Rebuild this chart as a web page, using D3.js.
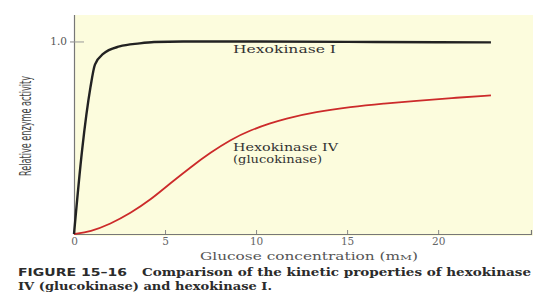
<!DOCTYPE html>
<html>
<head>
<meta charset="utf-8">
<script src="https://cdn.jsdelivr.net/npm/d3@7"></script>
<style>
  body { margin: 0; background: #fff; }
  svg { display: block; }
</style>
</head>
<body>
<script>
// glucose concentration (mM) and relative activity
var hexoIGlucose = [0, 0.45, 0.9, 1.15, 1.6, 2.5, 3.6, 4.4, 6, 10, 15, 20, 22.9];
var hexoIActivity = [0, 0.44, 0.76, 0.88, 0.935, 0.974, 0.99, 0.997, 1.0, 1.0, 0.998, 0.996, 0.995];

var hexoIVGlucose = [0, 0.9, 2.0, 3.1, 4.2, 5.3, 6.4, 7.5, 8.6, 9.7, 10.8, 11.5, 13.3, 15.2, 17.0, 18.8, 20.7, 22.9];
var hexoIVActivity = [0, 0.012, 0.052, 0.108, 0.177, 0.264, 0.347, 0.423, 0.49, 0.54, 0.575, 0.597, 0.635, 0.66, 0.677, 0.692, 0.706, 0.72];

var xTicks = [0, 5, 10, 15, 20];
var yTicks = [1.0];

var width = 548;
var height = 297;
var serif = "'DejaVu Serif', 'Liberation Serif', serif";

var svg = d3.select('body').append('svg')
    .attr('width', width)
    .attr('height', height);

var x = d3.scaleLinear().domain([0, 25.1]).range([74, 531]);
var y = d3.scaleLinear().domain([0, 1.14]).range([234, 14.5]);

// pale yellow plot panel
svg.append('rect')
    .attr('x', x(0) + 1).attr('y', 15)
    .attr('width', 533 - x(0) - 1).attr('height', 221)
    .attr('fill', '#fcfcdd');

// x axis
var xAxis = svg.append('g')
    .attr('transform', 'translate(0,' + y(0) + ')')
    .call(d3.axisBottom(x).tickValues(xTicks).tickSizeInner(-4).tickSizeOuter(-4).tickPadding(4));
xAxis.select('.domain').attr('stroke', '#777').attr('stroke-width', 1.2);
xAxis.selectAll('.tick line').attr('stroke', '#888');
xAxis.selectAll('.tick text')
    .attr('font-family', serif).attr('font-size', 10.5).attr('fill', '#666');

// y axis
var yAxis = svg.append('g')
    .attr('transform', 'translate(' + x(0) + ',0)')
    .call(d3.axisLeft(y).tickValues(yTicks).tickFormat(d3.format('.1f')).tickSizeInner(4).tickSizeOuter(0).tickPadding(3));
yAxis.select('.domain').attr('stroke', '#777').attr('stroke-width', 1.2);
yAxis.selectAll('.tick line').attr('stroke', '#888');
yAxis.selectAll('.tick').append('line')
    .attr('x1', 0).attr('x2', 10).attr('stroke', '#999');
yAxis.selectAll('.tick text')
    .attr('font-family', serif).attr('font-size', 10.5).attr('fill', '#555');

// curves
var line = d3.line()
    .x(function (d) { return x(d[0]); })
    .y(function (d) { return y(d[1]); });

svg.append('path')
    .datum(d3.zip(hexoIVGlucose, hexoIVActivity))
    .attr('d', line.curve(d3.curveBasis))
    .attr('fill', 'none')
    .attr('stroke', '#cc2a2a')
    .attr('stroke-width', 1.8);

svg.append('path')
    .datum(d3.zip(hexoIGlucose, hexoIActivity))
    .attr('d', line.curve(d3.curveMonotoneX))
    .attr('fill', 'none')
    .attr('stroke', '#222')
    .attr('stroke-width', 2.4);

// series labels
svg.append('text')
    .attr('x', 233).attr('y', 53)
    .attr('font-family', serif).attr('font-size', 11).attr('fill', '#333')
    .attr('textLength', 103).attr('lengthAdjust', 'spacingAndGlyphs')
    .text('Hexokinase I');
svg.append('text')
    .attr('x', 233).attr('y', 151)
    .attr('font-family', serif).attr('font-size', 10.5).attr('fill', '#333')
    .attr('textLength', 105).attr('lengthAdjust', 'spacingAndGlyphs')
    .text('Hexokinase IV');
svg.append('text')
    .attr('x', 233).attr('y', 163)
    .attr('font-family', serif).attr('font-size', 10.5).attr('fill', '#333')
    .attr('textLength', 89).attr('lengthAdjust', 'spacingAndGlyphs')
    .text('(glucokinase)');

// axis titles
var xt = svg.append('text')
    .attr('x', 200).attr('y', 260)
    .attr('font-family', serif).attr('font-size', 10.5).attr('fill', '#555')
    .attr('textLength', 218).attr('lengthAdjust', 'spacingAndGlyphs');
xt.append('tspan').text('Glucose concentration (m');
xt.append('tspan').attr('font-size', 8).text('M');
xt.append('tspan').text(')');

svg.append('text')
    .attr('transform', 'translate(31,126) rotate(-90)')
    .attr('text-anchor', 'middle')
    .attr('font-family', "'Liberation Sans Narrow', 'DejaVu Sans Condensed', sans-serif")
    .attr('font-size', 15).attr('fill', '#444')
    .attr('textLength', 100).attr('lengthAdjust', 'spacingAndGlyphs')
    .text('Relative enzyme activity');

// caption
svg.append('text')
    .attr('x', 18).attr('y', 276)
    .attr('font-family', "'DejaVu Sans', sans-serif").attr('font-weight', 'bold')
    .attr('font-size', 11).attr('fill', '#2b2b2b')
    .attr('textLength', 109).attr('lengthAdjust', 'spacingAndGlyphs')
    .text('FIGURE 15\u201316');
svg.append('text')
    .attr('x', 142).attr('y', 276)
    .attr('font-family', serif).attr('font-weight', 'bold')
    .attr('font-size', 11).attr('fill', '#2b2b2b')
    .attr('textLength', 389).attr('lengthAdjust', 'spacingAndGlyphs')
    .text('Comparison of the kinetic properties of hexokinase');
svg.append('text')
    .attr('x', 18).attr('y', 290)
    .attr('font-family', serif).attr('font-weight', 'bold')
    .attr('font-size', 11).attr('fill', '#2b2b2b')
    .attr('textLength', 254).attr('lengthAdjust', 'spacingAndGlyphs')
    .text('IV (glucokinase) and hexokinase I.');
</script>
</body>
</html>
